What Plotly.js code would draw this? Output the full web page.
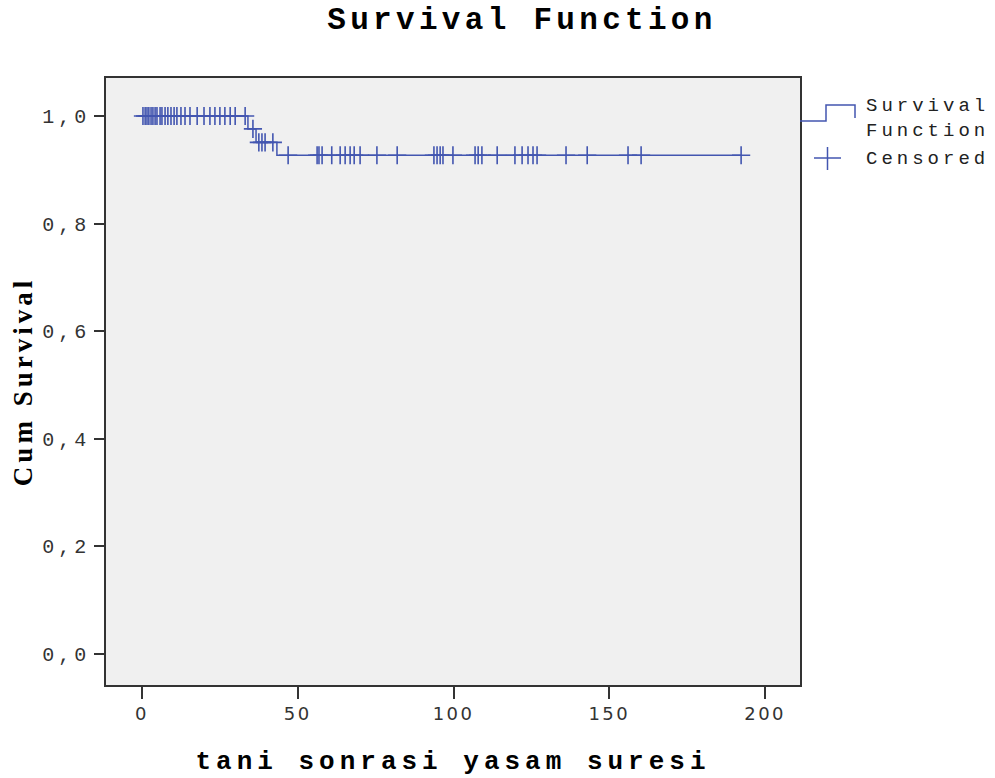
<!DOCTYPE html>
<html>
<head>
<meta charset="utf-8">
<script src="https://cdn.plot.ly/plotly-3.0.1.min.js"></script>
<style>
  html, body { margin: 0; padding: 0; background: #fff; }
  #chart { width: 995px; height: 778px; }
  .gtitle { letter-spacing: 4.3px; }
  .xtitle { letter-spacing: 5px; }
  .ytitle { letter-spacing: 4px; }
  .ytick text { letter-spacing: 4px; }
  .xtick text { letter-spacing: 2.5px; }
  .annotation-text { letter-spacing: 4px; }
</style>
</head>
<body>
<div id="chart"></div>
<script>
// Kaplan-Meier step function
const stepTimes    = [0, 34.0, 36.6, 43.3, 192.3];
const stepSurvival = [1.0, 0.976, 0.951, 0.927, 0.927];

const censoredTimes = [
  0.3, 1.0, 1.6, 2.2, 2.9, 3.5, 4.2, 4.8, 5.8, 6.4, 7.4, 8.3, 9.3, 10.3, 11.2,
  12.5, 13.8, 15.4, 17.7, 19.9, 21.8, 23.4, 25.0, 26.6, 28.3, 29.9, 33.1,
  35.6,
  37.5, 38.5, 39.5, 42.0,
  46.9, 56.2, 56.8, 57.8, 60.9, 63.6, 65.2, 66.8, 68.1, 70.0, 75.4, 81.9,
  93.7, 94.7, 95.7, 96.6, 99.8, 106.9, 107.9, 109.1, 114.0, 119.7, 122.0,
  123.9, 125.5, 126.8, 136.1, 142.9, 156.0, 160.2, 192.3
];

const titleText  = "Survival Function";
const xTitleText = "tani sonrasi yasam suresi";
const yTitleText = "Cum Survival";
const xTickVals  = [0, 50, 100, 150, 200];
const yTickVals  = [0, 0.2, 0.4, 0.6, 0.8, 1.0];
const legendNames = ["Survival<br>Function", "Censored"];

// survival value at a censored time, looked up from the step function
function survAt(t) {
  let s = stepSurvival[0];
  for (let i = 0; i < stepTimes.length; i++) {
    if (stepTimes[i] <= t) s = stepSurvival[i];
  }
  return s;
}
const censoredSurv = censoredTimes.map(survAt);

const blue = "#4356b0";

const traces = [
  {
    x: stepTimes, y: stepSurvival, type: "scatter", mode: "lines",
    line: { shape: "hv", color: blue, width: 1.5 },
    name: "Survival Function", showlegend: false, hoverinfo: "x+y"
  },
  {
    x: censoredTimes, y: censoredSurv, type: "scatter", mode: "markers",
    marker: { symbol: "cross-thin", size: 13, color: blue, line: { color: blue, width: 1.6 } },
    name: "Censored", showlegend: false, hoverinfo: "x+y"
  }
];

// legend drawn in paper coordinates beside the plot
const pw = 694, ph = 607, pl = 106, pt = 78;
const px = v => (v - pl) / pw;
const py = v => (pt + ph - v) / ph;

const layout = {
  width: 995, height: 778,
  margin: { l: 106, r: 195, t: 78, b: 93 },
  paper_bgcolor: "#ffffff",
  plot_bgcolor: "#f0f0f0",
  separators: ",.",
  showlegend: false,
  title: {
    text: titleText,
    font: { family: "Liberation Mono, Courier New, monospace", size: 31, color: "#000", weight: "bold" },
    x: 522 / 995, xref: "container", xanchor: "center",
    y: 1 - 18 / 778, yref: "container", yanchor: "middle"
  },
  xaxis: {
    range: [-11.56, 211.2],
    tickvals: xTickVals,
    ticks: "outside", ticklen: 12, tickwidth: 1.5, tickcolor: "#333",
    tickfont: { family: "DejaVu Sans, sans-serif", size: 18, color: "#333" },
    showline: true, linecolor: "#333", linewidth: 1.5, mirror: true,
    showgrid: false, zeroline: false,
    title: {
      text: xTitleText,
      font: { family: "Liberation Mono, Courier New, monospace", size: 26, color: "#000", weight: "bold" },
      standoff: 27
    }
  },
  yaxis: {
    range: [-0.0576, 1.0706],
    tickvals: yTickVals, tickformat: ".1f",
    ticks: "outside", ticklen: 10, tickwidth: 1.5, tickcolor: "#333",
    tickfont: { family: "Liberation Mono, Courier New, monospace", size: 20, color: "#333" },
    showline: true, linecolor: "#333", linewidth: 1.5, mirror: true,
    showgrid: false, zeroline: false,
    title: {
      text: yTitleText,
      font: { family: "Liberation Serif, Times New Roman, serif", size: 27, color: "#000", weight: "bold" },
      standoff: 2
    }
  },
  shapes: [
    { type: "path", xref: "paper", yref: "paper",
      path: `M ${px(800)} ${py(121)} L ${px(826)} ${py(121)} L ${px(826)} ${py(105)} L ${px(855)} ${py(105)} L ${px(855)} ${py(118)}`,
      line: { color: blue, width: 1.5 } },
    { type: "line", xref: "paper", yref: "paper",
      x0: px(814), x1: px(841), y0: py(158), y1: py(158), line: { color: blue, width: 1.5 } },
    { type: "line", xref: "paper", yref: "paper",
      x0: px(827.5), x1: px(827.5), y0: py(147), y1: py(170), line: { color: blue, width: 1.5 } }
  ],
  annotations: [
    { text: legendNames[0], xref: "paper", yref: "paper", x: px(864), y: py(93),
      xanchor: "left", yanchor: "top", align: "left", showarrow: false,
      font: { family: "Liberation Mono, Courier New, monospace", size: 19, color: "#222" } },
    { text: legendNames[1], xref: "paper", yref: "paper", x: px(864), y: py(159),
      xanchor: "left", yanchor: "middle", align: "left", showarrow: false,
      font: { family: "Liberation Mono, Courier New, monospace", size: 19, color: "#222" } }
  ]
};

Plotly.newPlot("chart", traces, layout, { displayModeBar: false, responsive: false });
</script>
</body>
</html>
